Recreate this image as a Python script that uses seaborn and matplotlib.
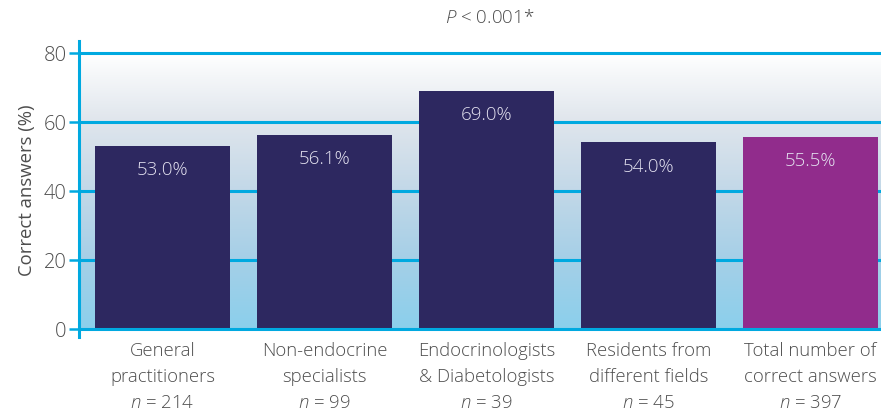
import numpy as np
import pandas as pd
import matplotlib
matplotlib.use("Agg")
import matplotlib.pyplot as plt
from matplotlib.colors import LinearSegmentedColormap
import seaborn as sns

categories = ["General\npractitioners", "Non-endocrine\nspecialists",
              "Endocrinologists\n& Diabetologists", "Residents from\ndifferent fields",
              "Total number of\ncorrect answers"]
n_values = [214, 99, 39, 45, 397]
percent_correct = [53.0, 56.1, 69.0, 54.0, 55.5]
bar_colors = ["#2D2860", "#2D2860", "#2D2860", "#2D2860", "#912C8C"]
y_ticks = [0, 20, 40, 60, 80]

sns.set_theme(style="white")
plt.rcParams['font.family'] = ['Open Sans', 'DejaVu Sans']
plt.rcParams['font.weight'] = 'light'
plt.rcParams['mathtext.fontset'] = 'custom'
plt.rcParams['mathtext.rm'] = 'Open Sans:light'
plt.rcParams['mathtext.it'] = 'Open Sans:italic:light'

text_color = "#4D4D4D"
line_color = "#00A9E0"

fig = plt.figure(figsize=(8.81, 4.10), dpi=100)
ax = fig.add_axes([79/881, 72/410, 802/881, 296/410])

df = pd.DataFrame({"cat": categories, "val": percent_correct})
sns.barplot(data=df, x="cat", y="val", hue="cat", palette=bar_colors,
            width=0.83, saturation=1, legend=False, ax=ax, zorder=3, linewidth=0)

xlo, xhi = -0.515, 4.435
ax.set_xlim(xlo, xhi)
ax.set_ylim(-2.4, 83.4)

# gradient background
cmap = LinearSegmentedColormap.from_list("bg", [(0.0, "#8BD0EC"), (0.25, "#A5CFE7"),
                                                (0.5, "#C2D8E8"), (0.75, "#DFE5EC"),
                                                (1.0, "#FFFFFF")])
grad = np.linspace(0, 1, 256).reshape(-1, 1)
ax.imshow(grad, cmap=cmap, origin="lower", aspect="auto",
          extent=(xlo, xhi, 0, 80), zorder=0)

for t in y_ticks:
    ax.axhline(t, color=line_color, lw=2.2, zorder=1 if t > 0 else 4)

for s in ["top", "right", "bottom"]:
    ax.spines[s].set_visible(False)
ax.spines["left"].set_color(line_color)
ax.spines["left"].set_linewidth(2.2)
ax.spines["left"].set_zorder(5)

ax.set_yticks(y_ticks)
ax.tick_params(axis="y", length=7, width=1.8, color=line_color, labelcolor=text_color,
               labelsize=14.5, pad=2, left=True)
ax.tick_params(axis="x", length=0, pad=3)
labels = [f"{c}\n$n$ = {n}" for c, n in zip(categories, n_values)]
ax.set_xticks(range(len(categories)))
ax.set_xticklabels(labels, color=text_color, fontsize=13.3, linespacing=1.55)
ax.set_xlabel("")
ax.set_ylabel("Correct answers (%)", color=text_color, fontsize=13.3, labelpad=5)

for i, v in enumerate(percent_correct):
    ax.text(i, v - 6.7, f"{v:.1f}%", ha="center", va="center",
            color="#E4E2F0", fontsize=13.5, zorder=6)

fig.text(490/881, 1 - 18/410, "$P$ < 0.001*", ha="center", va="center",
         color=text_color, fontsize=13.5)

fig.savefig("out.png", dpi=100)
